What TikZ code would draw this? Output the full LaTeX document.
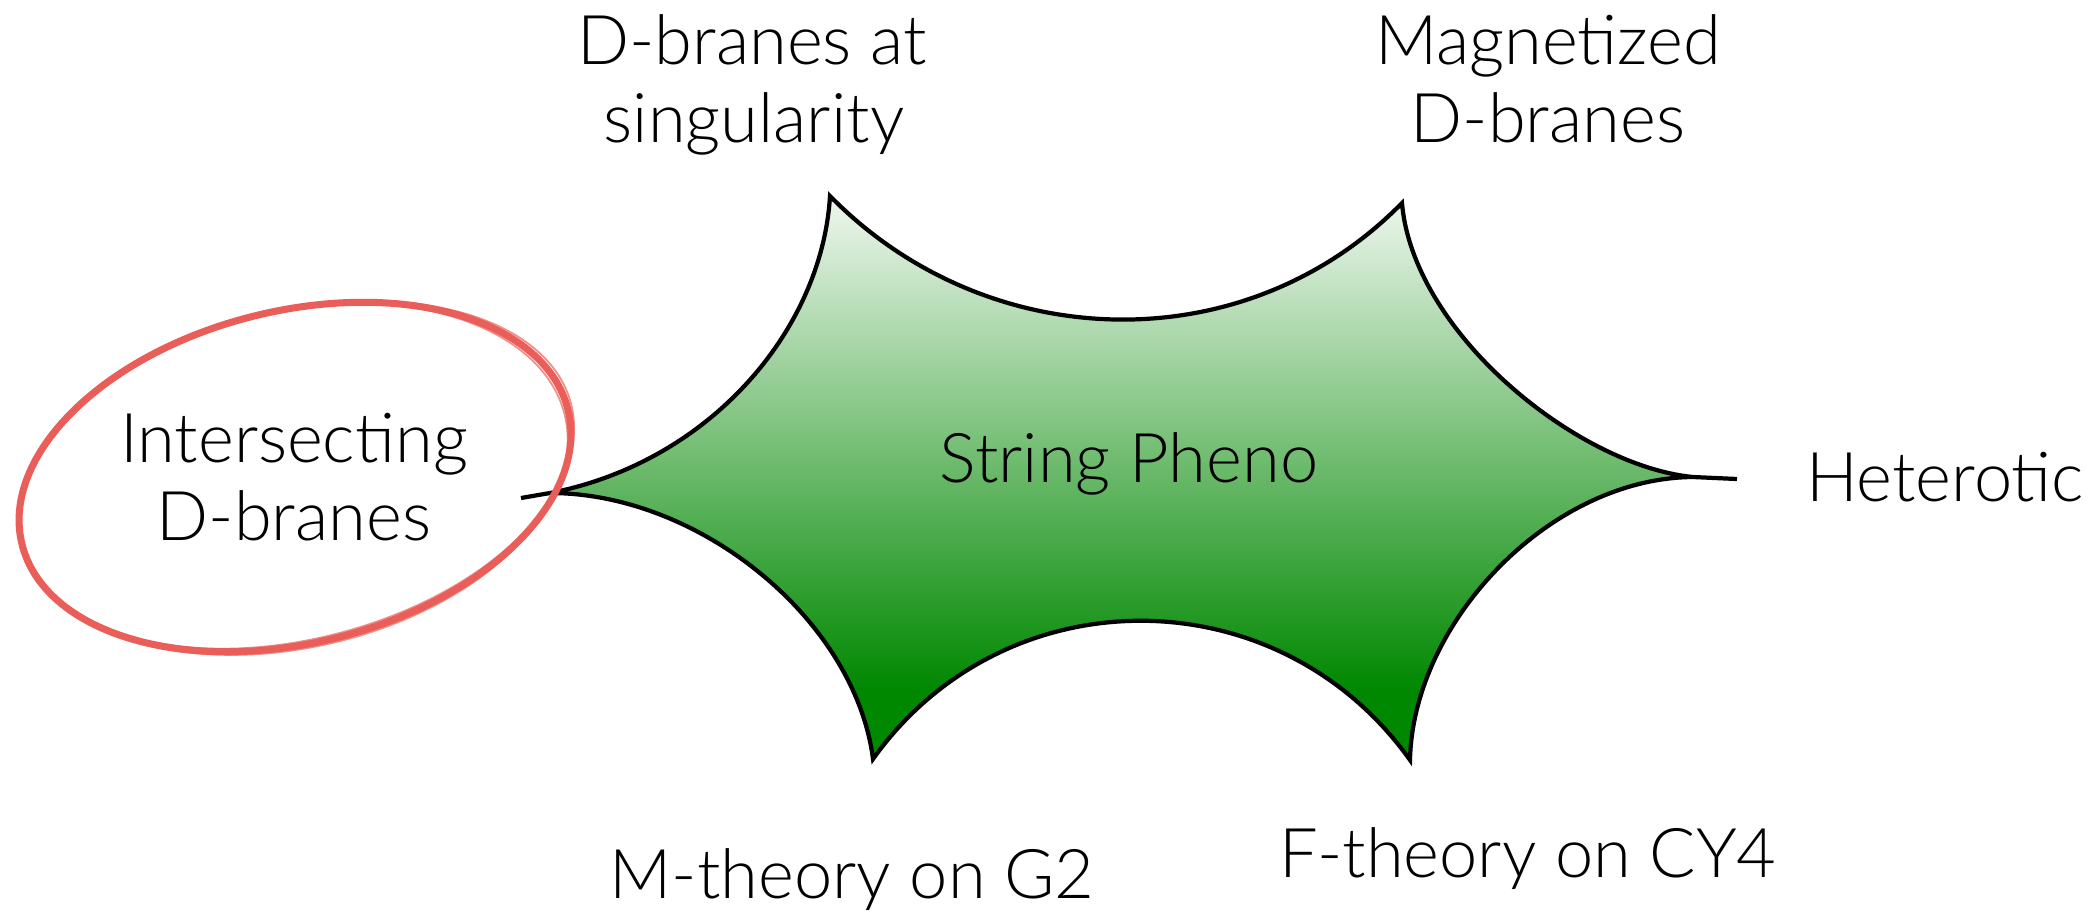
\documentclass[tikz,border=0pt]{standalone}
\usepackage{fontspec}
\setmainfont{Lato Light}
\definecolor{ered}{RGB}{234,94,89}
\definecolor{sgreen}{RGB}{0,136,0}
\definecolor{slight}{RGB}{242,248,242}
\begin{document}
\begin{tikzpicture}[x={(0.01cm,0)},y={(0,-0.01cm)},
  lbl/.style={anchor=base, inner sep=0pt, font=\fontsize{19.5pt}{22.2pt}\selectfont},
  starline/.style={draw=black, line width=1.2pt, line join=miter, miter limit=6},
  ringmain/.style={draw=ered, line width=2pt},
  ringthin/.style={draw=ered, line width=0.5pt, opacity=0.7}]
\useasboundingbox (0,0) rectangle (2093,911);
% star tips
\coordinate (L) at (550,493);
\coordinate (TL) at (830,196);
\coordinate (TR) at (1402,203);
\coordinate (R) at (1693,477);
\coordinate (BR) at (1410,760);
\coordinate (BL) at (873,759);
\coordinate (Ltail) at (521,498);
\coordinate (Rtail) at (1737,479);
% fill with gradient
\begin{scope}
\clip (L) .. controls (710,462) and (822,330) .. (TL)
  .. controls (987,356) and (1245,363) .. (TR)
  .. controls (1413,333) and (1578,466) .. (R)
  .. controls (1550,478) and (1413,622) .. (BR)
  .. controls (1278,575) and (1005,574) .. (BL)
  .. controls (855,620) and (700,493) .. (L) -- cycle;
\shade[top color=slight, bottom color=sgreen] (500,190) rectangle (1750,690);
\fill[sgreen] (500,689) rectangle (1750,770);
\end{scope}
\draw[starline] (L) .. controls (710,462) and (822,330) .. (TL)
  .. controls (987,356) and (1245,363) .. (TR)
  .. controls (1413,333) and (1578,466) .. (R)
  .. controls (1550,478) and (1413,622) .. (BR)
  .. controls (1278,575) and (1005,574) .. (BL)
  .. controls (855,620) and (700,493) .. (L) -- cycle;
\draw[starline] (Ltail) -- (L);
\draw[starline] (R) -- (Rtail);
% red hand-drawn ring
\draw[ringmain, rotate around={13.8:(295,477)}] (295,477) ellipse [x radius=2.81cm, y radius=1.66cm];
\draw[ringthin, rotate around={14.6:(297,475)}] (297,475) ellipse [x radius=2.83cm, y radius=1.635cm];
\draw[ringthin, rotate around={13.0:(293,479)}] (293,479) ellipse [x radius=2.79cm, y radius=1.685cm];
% labels
\node[lbl] (center) at (1129,482) {String Pheno};
\node[lbl] (dsing1) at (752,64) {D-branes at};
\node[lbl] (dsing2) at (754,142) {singularity};
\node[lbl] (magn1) at (1548,64) {Magnetized};
\node[lbl] (magn2) at (1548,142) {D-branes};
\node[lbl] (inter1) at (294,462) {Intersecting};
\node[lbl] (inter2) at (294,540) {D-branes};
\node[lbl] (het) at (1945,501) {Heterotic};
\node[lbl] (mth) at (852,898) {M-theory on G2};
\node[lbl] (fth) at (1528,877) {F-theory on CY4};
\end{tikzpicture}
\end{document}
